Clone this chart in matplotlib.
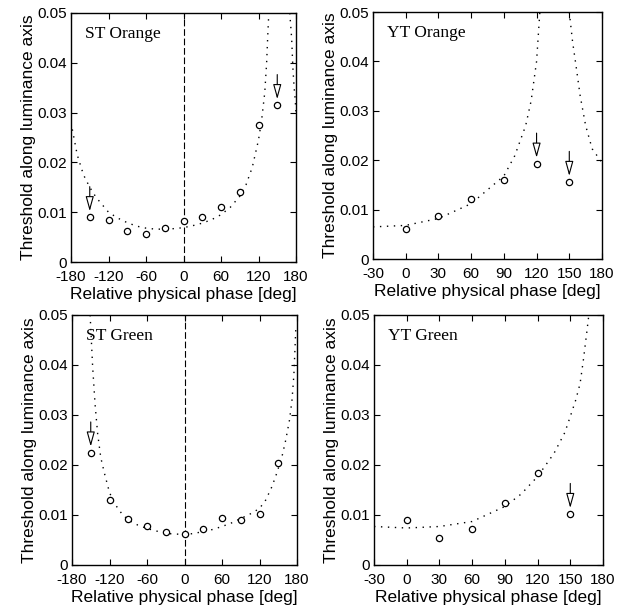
import numpy as np
import matplotlib
matplotlib.use('Agg')
import matplotlib.pyplot as plt

plt.rcParams['font.family'] = ['Liberation Sans', 'DejaVu Sans']
plt.rcParams['axes.unicode_minus'] = False

# measured thresholds (open circles)
phase_st = [-150, -120, -90, -60, -30, 0, 30, 60, 90, 120, 150]
phase_yt = [0, 30, 60, 90, 120, 150]

st_orange = [0.0090, 0.0085, 0.0063, 0.0056, 0.0068, 0.0082, 0.0091, 0.0110, 0.0140, 0.0275, 0.0315]
yt_orange = [0.0060, 0.0087, 0.0121, 0.0160, 0.0193, 0.0156]
st_green = [0.0225, 0.0130, 0.0093, 0.0078, 0.0067, 0.0062, 0.0072, 0.0095, 0.0090, 0.0102, 0.0205]
yt_green = [0.0091, 0.0055, 0.0073, 0.0125, 0.0184, 0.0102]

# points marked with an arrow (lower bound)
st_orange_arrows = [-150, 150]
yt_orange_arrows = [120, 150]
st_green_arrows = [-150]
yt_green_arrows = [150]

# fitted model curves (dotted)
fit_st_orange_x = [-180, -170, -160, -150, -140, -130, -120, -105, -90, -75, -60, -45, -30, -15,
                   0, 15, 30, 45, 60, 75, 90, 100, 110, 120, 125, 130, 133, 135, 136.5]
fit_st_orange_y = [0.0280, 0.0215, 0.0175, 0.0150, 0.0130, 0.0115, 0.0100, 0.0088, 0.0079, 0.0072,
                   0.0068, 0.0066, 0.0066, 0.0067, 0.0069, 0.0073, 0.0078, 0.0085, 0.0095, 0.0110,
                   0.0132, 0.0155, 0.0190, 0.0245, 0.0285, 0.0340, 0.0400, 0.0460, 0.0500]
fit_st_orange_x2 = [170, 173, 175, 177, 178.5, 180]
fit_st_orange_y2 = [0.0500, 0.0450, 0.0390, 0.0350, 0.0330, 0.0300]

fit_yt_orange_x = [-30, 0, 30, 60, 90, 100, 110, 115, 120, 123]
fit_yt_orange_y = [0.0065, 0.0068, 0.0082, 0.0112, 0.0168, 0.0209, 0.0270, 0.0320, 0.0400, 0.0500]
fit_yt_orange_x2 = [150, 153, 156, 160, 165, 171, 180]
fit_yt_orange_y2 = [0.0500, 0.0440, 0.0394, 0.0330, 0.0270, 0.0223, 0.0195]

fit_st_green_x = [-151, -147, -143, -139, -134, -128, -120, -112, -100, -90, -75, -60, -45, -30,
                  -15, 0, 15, 30, 45, 60, 75, 90, 105, 120, 130, 140, 148, 156, 162, 168, 172, 175, 178]
fit_st_green_y = [0.0500, 0.0397, 0.0320, 0.0263, 0.0215, 0.0183, 0.0145, 0.0123, 0.0102, 0.0090,
                  0.0080, 0.0073, 0.0068, 0.0063, 0.0062, 0.0061, 0.0063, 0.0067, 0.0071, 0.0077,
                  0.0084, 0.0093, 0.0102, 0.0113, 0.0130, 0.0157, 0.0185, 0.0217, 0.0250, 0.0290,
                  0.0330, 0.0380, 0.0470]

fit_yt_green_x = [-30, 0, 30, 60, 90, 105, 120, 135, 145, 150, 155, 159, 162, 165, 167]
fit_yt_green_y = [0.0077, 0.0074, 0.0077, 0.0087, 0.0117, 0.0142, 0.0177, 0.0223, 0.0265, 0.0297,
                  0.0330, 0.0363, 0.0410, 0.0463, 0.0500]

ytick_vals = [0, 0.01, 0.02, 0.03, 0.04, 0.05]
ytick_labels = ['0', '0.01', '0.02', '0.03', '0.04', '0.05']
xticks_st = [-180, -120, -60, 0, 60, 120, 180]
xticks_yt = [-30, 0, 30, 60, 90, 120, 150, 180]

fig = plt.figure(figsize=(6.25, 6.1), dpi=100)

panels = [
    ([71/625, 348/610, 225/625, 249/610], 'ST Orange', phase_st, st_orange, st_orange_arrows,
     [(fit_st_orange_x, fit_st_orange_y), (fit_st_orange_x2, fit_st_orange_y2)], xticks_st, True),
    ([373/625, 351/610, 229/625, 247/610], 'YT Orange', phase_yt, yt_orange, yt_orange_arrows,
     [(fit_yt_orange_x, fit_yt_orange_y), (fit_yt_orange_x2, fit_yt_orange_y2)], xticks_yt, False),
    ([72/625, 45/610, 225/625, 250/610], 'ST Green', phase_st, st_green, st_green_arrows,
     [(fit_st_green_x, fit_st_green_y)], xticks_st, True),
    ([374/625, 45/610, 229/625, 250/610], 'YT Green', phase_yt, yt_green, yt_green_arrows,
     [(fit_yt_green_x, fit_yt_green_y)], xticks_yt, False),
]

for rect, name, xs, ys, arrows, fits, xticks, zero_line in panels:
    ax = fig.add_axes(rect)
    for fx, fy in fits:
        ax.plot(fx, fy, color='black', lw=1.0, ls=(0, (1, 4)))
    if zero_line:
        ax.axvline(0, color='black', lw=0.8, ls=(0, (6, 2.5)))
    ax.plot(xs, ys, 'o', mfc='white', mec='black', ms=4.5, mew=0.9, ls='none', zorder=3)
    for xa in arrows:
        ya = ys[xs.index(xa)]
        ax.annotate('', xy=(xa, ya), xycoords='data', xytext=(0, 22), textcoords='offset points',
                    arrowprops=dict(arrowstyle='-|>,head_length=0.9,head_width=0.25',
                                    fc='white', ec='black', lw=0.8, shrinkA=0, shrinkB=4.3,
                                    mutation_scale=10))
    ax.text(0.062, 0.915, name, transform=ax.transAxes, family='Liberation Serif',
            fontsize=12.5, va='center', ha='left')
    ax.set_xlim(xticks[0], xticks[-1])
    ax.set_ylim(0, 0.05)
    ax.set_xticks(xticks)
    ax.set_yticks(ytick_vals)
    ax.set_yticklabels(ytick_labels)
    ax.tick_params(direction='in', top=True, right=True, length=4, width=0.8, labelsize=11)
    ax.tick_params(axis='x', pad=6)
    ax.tick_params(axis='y', pad=3)
    for s in ax.spines.values():
        s.set_linewidth(1.0)
    ax.set_xlabel('Relative physical phase [deg]', fontsize=12.5, labelpad=2)
    ax.set_ylabel('Threshold along luminance axis', fontsize=12.5, labelpad=1)

plt.savefig('out.png', dpi=100)
